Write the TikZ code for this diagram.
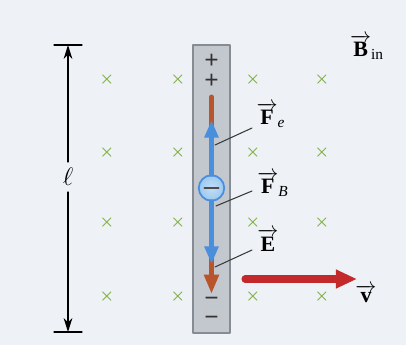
\documentclass[tikz,border=0pt]{standalone}
\usepackage{amsmath}
\usepackage{fontspec}
\setmainfont{Liberation Serif}
\usetikzlibrary{arrows.meta}
\definecolor{bgpaper}{HTML}{EEF2F6}
\definecolor{rodgray}{HTML}{C3C8CF}
\definecolor{rodedge}{HTML}{868C94}
\definecolor{fblue}{HTML}{4A8FDC}
\definecolor{eblue}{HTML}{9CC8F0}
\definecolor{ebrown}{HTML}{B8552C}
\definecolor{vred}{HTML}{C3282B}
\definecolor{xgreen}{HTML}{7DAE3E}
\definecolor{leadgray}{HTML}{3A3A3A}
\begin{document}
\begin{tikzpicture}[x=0.02cm,y=-0.02cm,line cap=round,line join=round,
  xmark/.style={text=xgreen,inner sep=0pt,font=\small},
  charge/.style={inner sep=0pt,font=\Large\bfseries,text=black!80},
  vlabel/.style={inner sep=1pt,font=\fontsize{12.5}{15}\selectfont},
  leader/.style={line width=0.6pt,draw=leadgray},
  forcearrow/.style={line width=2.8pt,draw=fblue,-{Triangle[width=7.6pt,length=10pt]}}]
  % page and rod
  \fill[bgpaper] (0,0) rectangle (406,345);
  \useasboundingbox (0,0) rectangle (406,345);
  \draw[fill=rodgray,draw=rodedge,line width=0.8pt] (193,45) rectangle (230,333);
  % field into the page
  \foreach \cx in {107,178,253,322}
    \foreach \cy in {80,153,223,297}
      \node[xmark] (x-\cx-\cy) at (\cx,\cy) {$\boldsymbol{\times}$};
  \node[vlabel] (Bin) at (367,47) {$\overrightarrow{\textbf{B}}_{\text{in}}$};
  % length of the rod
  \coordinate (ell-top) at (68,45);
  \coordinate (ell-bot) at (68,332);
  \node[font=\Large] (ell) at (68,177) {$\ell$};
  \draw[line width=0.7pt] (54,45) -- (82,45);
  \draw[line width=0.7pt] (54,332) -- (82,332);
  \draw[line width=0.6pt,-{Stealth[length=8pt,width=5pt]}] (ell) -- (ell-top);
  \draw[line width=0.6pt,-{Stealth[length=8pt,width=5pt]}] (ell) -- (ell-bot);
  % charges at the ends
  \node[charge] (plus1) at (211.5,61) {+};
  \node[charge] (plus2) at (211.5,81) {+};
  \node[charge] (minus1) at (211.5,302) {−};
  \node[charge] (minus2) at (211.5,321) {−};
  % field E and the two forces
  \coordinate (e-start) at (211.5,97);
  \coordinate (e-end) at (211.5,294);
  \draw[line width=2.8pt,draw=ebrown,-{Triangle[width=8pt,length=11pt]}] (e-start) -- (e-end);
  \node[circle,draw=fblue,inner color=eblue!60,outer color=eblue,line width=1pt,
    inner sep=0pt,minimum size=14.5pt] (electron) at (211.5,188) {};
  \draw[line width=1.1pt,black!70] ([xshift=-4pt]electron.center) -- ([xshift=4pt]electron.center);
  \coordinate (fe-tip) at (211.5,120);
  \coordinate (fb-tip) at (211.5,264);
  \draw[forcearrow] (electron.north) -- (fe-tip);
  \draw[forcearrow] (electron.south) -- (fb-tip);
  % labels and leaders
  \node[vlabel] (Fe) at (271,115) {$\overrightarrow{\textbf{F}}_{\textit{e}}$};
  \node[vlabel] (FB) at (273,184) {$\overrightarrow{\textbf{F}}_{\textit{B}}$};
  \node[vlabel] (E) at (268,240) {$\overrightarrow{\textbf{E}}$};
  \coordinate (fe-foot) at (215,145);
  \coordinate (fb-foot) at (216,206);
  \coordinate (e-foot) at (215,267);
  \draw[leader] (fe-foot) -- (252,128);
  \draw[leader] (fb-foot) -- (252,191);
  \draw[leader] (e-foot) -- (252,250);
  % velocity
  \coordinate (v-start) at (245,279);
  \coordinate (v-end) at (357,279);
  \draw[line width=4pt,draw=vred,-{Triangle[width=10pt,length=12pt]}] (v-start) -- (v-end);
  \node[vlabel] (v) at (366,294) {$\overrightarrow{\textbf{v}}$};
\end{tikzpicture}
\end{document}
